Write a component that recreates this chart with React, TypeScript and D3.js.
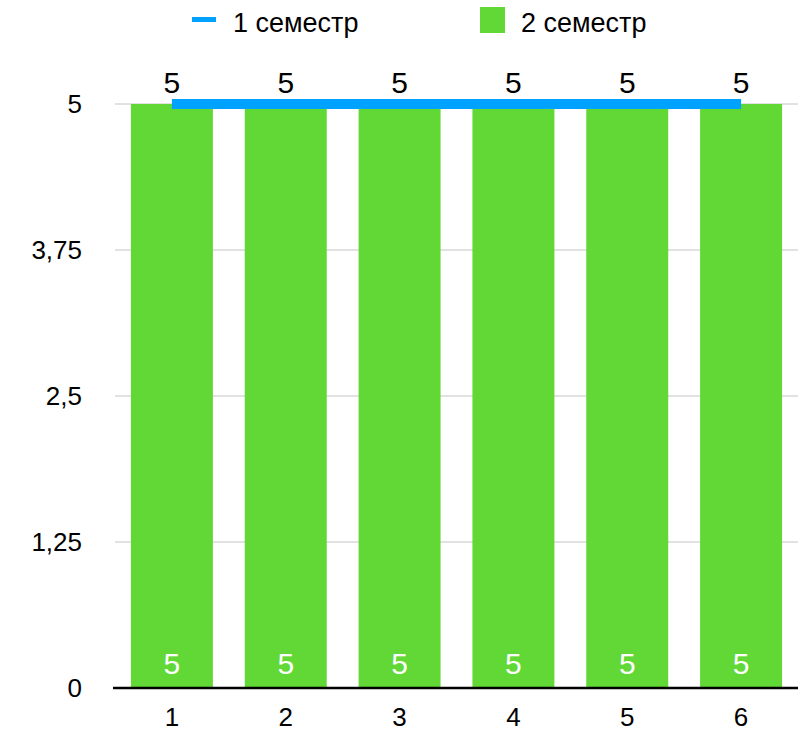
import React from "react";
import * as d3 from "d3";

const categories = ["1", "2", "3", "4", "5", "6"];
const semester1 = [5, 5, 5, 5, 5, 5];
const semester2 = [5, 5, 5, 5, 5, 5];
const yTicks = [0, 1.25, 2.5, 3.75, 5];
const seriesNames = ["1 семестр", "2 семестр"];

const W = 810;
const H = 731;
const FONT = "'Liberation Sans', Arial, Helvetica, sans-serif";
const BLUE = "#00A2FF";
const GREEN = "#61D836";

export default function App() {
  const x = d3
    .scaleBand<string>()
    .domain(categories)
    .range([115, 798])
    .paddingInner(0.28)
    .paddingOuter(0.14);
  const y = d3.scaleLinear().domain([0, 5]).range([688, 104]);
  const fmt = (v: number) => String(v).replace(".", ",");
  const cx = (c: string) => (x(c) as number) + x.bandwidth() / 2;
  const line = d3
    .line<number>()
    .x((_, i) => cx(categories[i]))
    .y((d) => y(d));

  return (
    <svg
      width={W}
      height={H}
      style={{ position: "absolute", left: 0, top: 0, background: "#fff" }}
      fontFamily={FONT}
    >
      {/* legend */}
      <g>
        <line x1={192} x2={216} y1={19.5} y2={19.5} stroke={BLUE} strokeWidth={5} />
        <text x={233} y={32} fontSize={27} fill="#000">
          {seriesNames[0]}
        </text>
        <rect x={480} y={7} width={25} height={26} fill={GREEN} />
        <text x={521} y={32} fontSize={27} fill="#000">
          {seriesNames[1]}
        </text>
      </g>

      {/* gridlines */}
      {yTicks.map((t) =>
        t === 0 ? null : (
          <line
            key={"g" + t}
            x1={115}
            x2={798}
            y1={y(t)}
            y2={y(t)}
            stroke="#c4c4c4"
            strokeWidth={1}
          />
        )
      )}

      {/* y tick labels */}
      {yTicks.map((t) => (
        <text
          key={"yt" + t}
          x={82}
          y={y(t)}
          dy="0.36em"
          textAnchor="end"
          fontSize={26}
          fill="#000"
        >
          {fmt(t)}
        </text>
      ))}

      {/* bars */}
      {categories.map((c, i) => (
        <rect
          key={"b" + c}
          x={x(c)}
          y={y(semester2[i])}
          width={x.bandwidth()}
          height={y(0) - y(semester2[i])}
          fill={GREEN}
        />
      ))}

      {/* bar value labels */}
      {categories.map((c, i) => (
        <text
          key={"bl" + c}
          x={cx(c)}
          y={y(0) - 14}
          textAnchor="middle"
          fontSize={30}
          fill="#fff"
        >
          {fmt(semester2[i])}
        </text>
      ))}

      {/* axis */}
      <line x1={113} x2={798} y1={y(0)} y2={y(0)} stroke="#000" strokeWidth={2.5} />

      {/* x tick labels */}
      {categories.map((c) => (
        <text key={"xt" + c} x={cx(c)} y={726} textAnchor="middle" fontSize={26} fill="#000">
          {c}
        </text>
      ))}

      {/* line series */}
      <path d={line(semester1) || ""} fill="none" stroke={BLUE} strokeWidth={10} />

      {/* line value labels */}
      {categories.map((c, i) => (
        <text
          key={"ll" + c}
          x={cx(c)}
          y={y(semester1[i]) - 11}
          textAnchor="middle"
          fontSize={30}
          fill="#000"
        >
          {fmt(semester1[i])}
        </text>
      ))}
    </svg>
  );
}
